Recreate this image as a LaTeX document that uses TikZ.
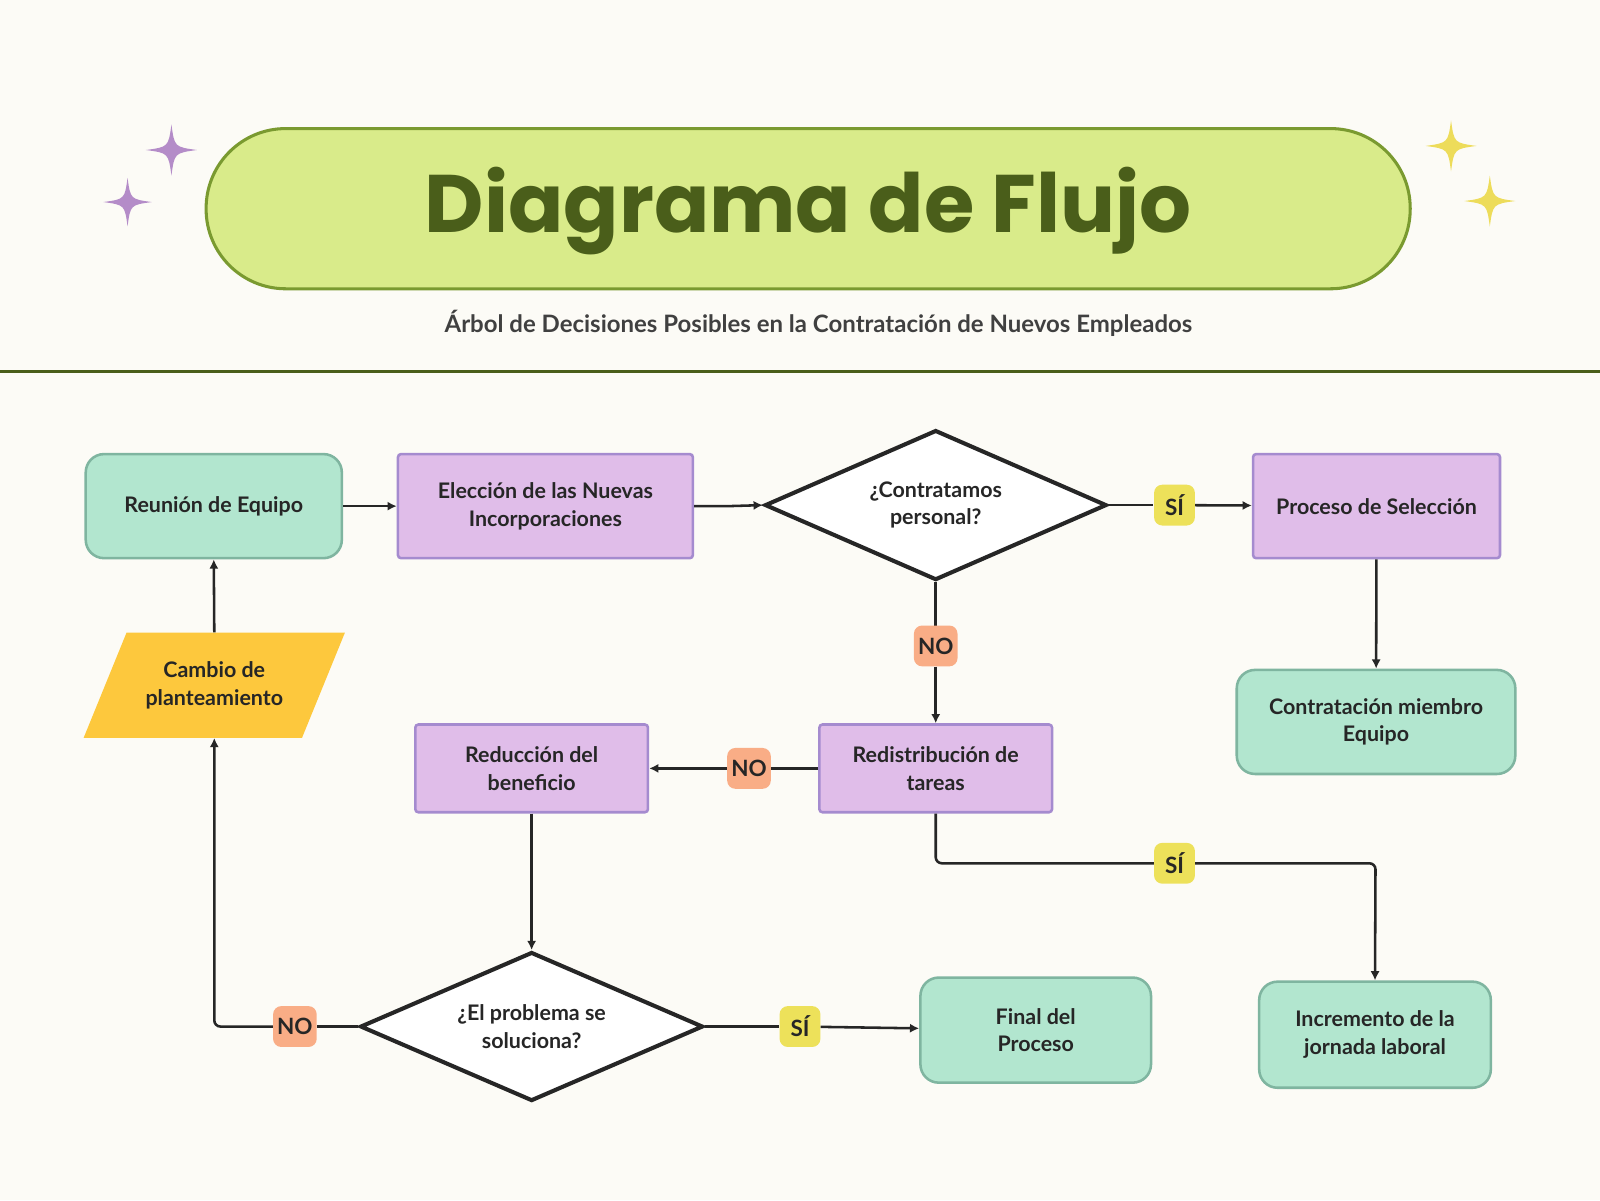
\documentclass[tikz,border=0pt]{standalone}
\usepackage{fontspec}
\setmainfont{Lato}
\newfontfamily\titlefont{Poppins}
\usetikzlibrary{shapes.geometric,arrows.meta}
\definecolor{bg}{HTML}{FCFBF6}
\definecolor{pill}{HTML}{D9EB8A}
\definecolor{pillb}{HTML}{7A9A30}
\definecolor{dgreen}{HTML}{4A5E1A}
\definecolor{teal}{HTML}{B2E6CF}
\definecolor{tealb}{HTML}{7FB5A0}
\definecolor{purp}{HTML}{E0BDE9}
\definecolor{purpb}{HTML}{A58BCF}
\definecolor{yel}{HTML}{EDE15A}
\definecolor{ora}{HTML}{F9AD86}
\definecolor{gold}{HTML}{FDC83D}
\definecolor{starp}{HTML}{B48CC8}
\definecolor{stary}{HTML}{EDDC5A}
\begin{document}
\begin{tikzpicture}[x=1pt,y=-1pt,
  every node/.style={font=\fontsize{21}{27}\selectfont\bfseries, text=black!85, align=center},
  tealbox/.style={draw=tealb, fill=teal, line width=2.5pt, rounded corners=18pt, minimum height=102pt},
  purpbox/.style={draw=purpb, fill=purp, line width=2.5pt, rounded corners=3pt},
  dia/.style={diamond, draw=black!85, fill=white, line width=4pt, aspect=2.3, inner sep=0pt},
  tag/.style={rounded corners=8pt, minimum width=40pt, minimum height=40pt, inner sep=4pt, font=\fontsize{22}{26}\selectfont\bfseries},
  arr/.style={line width=2.5pt, draw=black!85, -{Latex[length=9pt,width=9pt]}},
  ln/.style={line width=2.5pt, draw=black!85},
  star/.pic={\fill[pic actions] (0,-25) .. controls (3,-3) .. (25,0) .. controls (3,3) .. (0,25) .. controls (-3,3) .. (-25,0) .. controls (-3,-3) .. (0,-25);}
]
\fill[bg] (0,0) rectangle (1568,1176);
\useasboundingbox (0,0) rectangle (1568,1176);
% header
\draw[fill=pill, draw=pillb, line width=3pt, rounded corners=78pt] (202,126) rectangle (1382,283);
\node[font=\titlefont\fontsize{80}{90}\selectfont\bfseries, text=dgreen] (title) at (792,207) {Diagrama de Flujo};
\node[font=\fontsize{23.5}{28}\selectfont\bfseries, text=black!75] (sub) at (802,317) {Árbol de Decisiones Posibles en la Contratación de Nuevos Empleados};
\draw[dgreen, line width=3pt] (0,364) -- (1568,364);
\pic[fill=starp] at (168,147) {star};
\pic[fill=starp,scale=0.95] at (125,198) {star};
\pic[fill=stary] at (1422,143) {star};
\pic[fill=stary] at (1460,197) {star};
% nodes
\node[tealbox, minimum width=251pt] (reu) at (209.5,496) {Reunión de Equipo};
\node[purpbox, minimum width=289pt, minimum height=102pt] (ele) at (534.5,496) {Elección de las Nuevas\\Incorporaciones};
\node[dia, minimum width=335pt, minimum height=147pt] (con) at (917,495) {¿Contratamos\\personal?};
\node[purpbox, minimum width=242pt, minimum height=102pt] (pro) at (1349,496) {Proceso de Selección};
\node[tealbox, minimum width=273pt] (cmb) at (1348.5,707.5) {Contratación miembro\\Equipo};
\node[purpbox, minimum width=228pt, minimum height=86pt] (red) at (917,753) {Redistribución de\\tareas};
\node[purpbox, minimum width=228pt, minimum height=86pt] (rdb) at (521,753) {Reducción del\\beneficio};
\fill[gold] (82,723) -- (124,620) -- (338,620) -- (296,723) -- cycle;
\node[minimum width=170pt, minimum height=103pt] (cam) at (210,671.5) {Cambio de\\planteamiento};
\node[tealbox, minimum width=227pt, minimum height=104pt] (inc) at (1347.5,1014) {Incremento de la\\jornada laboral};
\node[dia, minimum width=336pt, minimum height=146pt] (pb) at (521,1006) {¿El problema se\\soluciona?};
\node[tealbox, minimum width=226pt, minimum height=103pt] (fin) at (1015,1009.5) {Final del\\Proceso};
% connectors
\draw[arr] (reu) -- (ele);
\draw[arr] (ele.east) -- (714,496) -- (con.west);
\draw[ln] (con.east) -- (1130,495);
\node[tag, fill=yel] (s1) at (1151,495) {SÍ};
\draw[arr] (s1) -- (pro);
\draw[arr] (pro) -- (cmb);
\draw[ln] (con.south) -- (917,613);
\node[tag, fill=ora] (n1) at (917,633) {NO};
\draw[arr] (n1) -- (red);
\node[tag, fill=ora] (n2) at (734,753) {NO};
\draw[ln] (red) -- (n2);
\draw[arr] (n2) -- (rdb);
\node[tag, fill=yel] (s2) at (1151,846) {SÍ};
\draw[ln, rounded corners=6pt] (red.south) -- (917,846) -- (s2.west);
\draw[arr, rounded corners=6pt] (s2.east) -- (1348,846) -- (inc.north);
\draw[arr] (rdb) -- (pb.north);
\node[tag, fill=yel] (s3) at (784,1006) {SÍ};
\draw[ln] (pb.east) -- (s3);
\draw[arr] (s3) -- (fin);
\node[tag, fill=ora] (n3) at (289,1006) {NO};
\draw[ln] (pb.west) -- (n3);
\draw[arr, rounded corners=6pt] (n3.west) -- (210,1006) -- (cam.south);
\draw[arr] (cam.north) -- (reu.south);
\end{tikzpicture}
\end{document}
